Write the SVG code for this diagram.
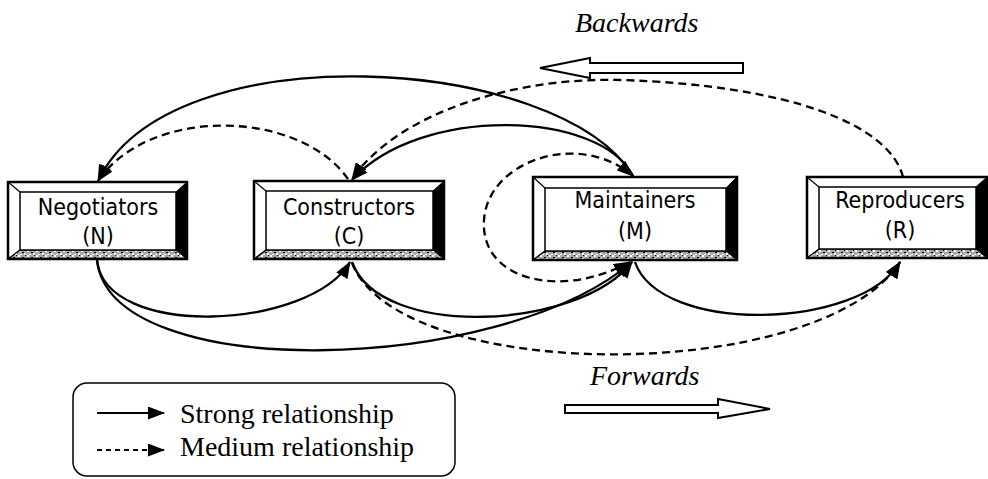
<svg xmlns="http://www.w3.org/2000/svg" width="988" height="479" viewBox="0 0 988 479">
<style>
.frame{fill:none;stroke:#000;stroke-width:2.5}
.inner{fill:#fff;stroke:#000;stroke-width:1.5}
.dark{fill:#000;stroke:#000;stroke-width:1}
.stip{fill:url(#stip);stroke:#000;stroke-width:1}
.diag{stroke:#000;stroke-width:1.2}
.lbl{font-family:"DejaVu Sans",Verdana,sans-serif;font-size:23px;font-stretch:condensed;text-anchor:middle;fill:#000}
.serif{font-family:"Liberation Serif","Times New Roman",serif;font-size:28px;fill:#000}
.ital{font-family:"Liberation Serif","Times New Roman",serif;font-size:28px;font-style:italic;fill:#000}
.solid{fill:none;stroke:#000;stroke-width:2.3}
.dash{fill:none;stroke:#000;stroke-width:2.3;stroke-dasharray:8 5}
.arr{marker-end:url(#ah)}
.hollow{fill:#fff;stroke:#000;stroke-width:2}
</style>
<defs>
<marker id="ah" markerUnits="userSpaceOnUse" markerWidth="17" markerHeight="13" refX="16" refY="6.5" orient="auto-start-reverse" viewBox="0 0 17 13">
<path d="M0,0 L17,6.5 L0,13 z" fill="#000"/>
</marker>
<pattern id="stip" patternUnits="userSpaceOnUse" width="9" height="5">
<rect width="9" height="5" fill="#a8a8a8"/>
<rect x="0" y="0" width="2" height="2" fill="#fff"/>
<rect x="4" y="2" width="2" height="1" fill="#000"/>
<rect x="6" y="3" width="2" height="2" fill="#fff"/>
<rect x="2" y="4" width="2" height="1" fill="#fff"/>
<rect x="7" y="0" width="1" height="1" fill="#000"/>
</pattern>
</defs>
<rect width="988" height="479" fill="#fff"/>

<g id="connectors">
<path class="solid arr" d="M633 176 C560 55 170 30 98 181"/>
<path class="solid arr" d="M633 176 C600 110 420 105 352 180"/>
<path class="dash arr" d="M348 179 C300 110 150 105 98 181"/>
<path class="dash arr" d="M903 177 C890 125 790 85 620 80 C520 77 400 110 352 179"/>
<path class="dash arr" style="marker-start:url(#ah)" d="M630 262 C560 300 480 280 484 220 C488 160 580 130 633 176"/>
<path class="solid arr" d="M97 260 C105 340 310 330 350 262"/>
<path class="solid arr" d="M97 260 C110 385 500 375 632 262"/>
<path class="solid arr" d="M352 262 C380 340 580 330 632 262"/>
<path class="solid arr" d="M635 262 C660 335 860 330 900 262"/>
<path class="dash arr" d="M352 263 C400 385 820 385 900 262"/>
</g>

<g id="node-N">
<rect x="8" y="182" width="179" height="77" fill="#fff"/>
<polygon class="dark" points="187,182 187,259 176,250 176,192"/>
<polygon class="stip" points="8,259 187,259 176,250 20,250"/>
<line class="diag" x1="8" y1="182" x2="20" y2="192"/>
<line class="diag" x1="8" y1="259" x2="20" y2="250"/>
<rect class="inner" x="20" y="192" width="156" height="58"/>
<rect class="frame" x="8" y="182" width="179" height="77"/>
<text class="lbl" x="98" y="215">Negotiators</text>
<text class="lbl" x="98" y="244">(N)</text>
</g>

<g id="node-C">
<rect x="254" y="181" width="190" height="78" fill="#fff"/>
<polygon class="dark" points="444,181 444,259 433,250 433,191"/>
<polygon class="stip" points="254,259 444,259 433,250 266,250"/>
<line class="diag" x1="254" y1="181" x2="266" y2="191"/>
<line class="diag" x1="254" y1="259" x2="266" y2="250"/>
<rect class="inner" x="266" y="191" width="167" height="59"/>
<rect class="frame" x="254" y="181" width="190" height="78"/>
<text class="lbl" x="349" y="215">Constructors</text>
<text class="lbl" x="349" y="244">(C)</text>
</g>

<g id="node-M">
<rect x="533" y="177" width="204" height="83" fill="#fff"/>
<polygon class="dark" points="737,177 737,260 726,251 726,188"/>
<polygon class="stip" points="533,260 737,260 726,251 545,251"/>
<line class="diag" x1="533" y1="177" x2="545" y2="188"/>
<line class="diag" x1="533" y1="260" x2="545" y2="251"/>
<rect class="inner" x="545" y="188" width="181" height="63"/>
<rect class="frame" x="533" y="177" width="204" height="83"/>
<text class="lbl" x="635" y="208">Maintainers</text>
<text class="lbl" x="635" y="239">(M)</text>
</g>

<g id="node-R">
<rect x="807" y="177" width="180" height="81" fill="#fff"/>
<polygon class="dark" points="987,177 987,258 976,249 976,187"/>
<polygon class="stip" points="807,258 987,258 976,249 819,249"/>
<line class="diag" x1="807" y1="177" x2="819" y2="187"/>
<line class="diag" x1="807" y1="258" x2="819" y2="249"/>
<rect class="inner" x="819" y="187" width="157" height="62"/>
<rect class="frame" x="807" y="177" width="180" height="81"/>
<text class="lbl" x="900" y="208">Reproducers</text>
<text class="lbl" x="900" y="238">(R)</text>
</g>

<g id="direction-backwards">
<text class="ital" x="575" y="32">Backwards</text>
<polygon class="hollow" points="540,68 590,58 590,63 743,63 743,73 590,73 590,78"/>
</g>

<g id="direction-forwards">
<text class="ital" x="590" y="385">Forwards</text>
<polygon class="hollow" points="565,405 718,405 718,399 770,409 718,418 718,413 565,413"/>
</g>

<g id="legend">
<rect x="73" y="383" width="382" height="93" rx="14" fill="none" stroke="#000" stroke-width="1.5"/>
<line class="solid arr" x1="97" y1="413" x2="164" y2="413" style="stroke-width:2"/>
<line class="dash arr" x1="97" y1="450" x2="164" y2="450" style="stroke-dasharray:5 4;stroke-width:2"/>
<text class="serif" x="180" y="423">Strong relationship</text>
<text class="serif" x="180" y="456">Medium relationship</text>
</g>
</svg>
